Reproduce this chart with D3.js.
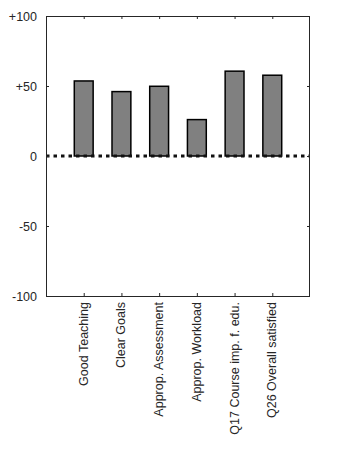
<!DOCTYPE html>
<html>
<head>
<meta charset="utf-8">
<script src="https://cdn.jsdelivr.net/npm/d3@7"></script>
<style>
  body { margin: 0; background: #fff; }
  svg { display: block; }
</style>
</head>
<body>
<svg></svg>
<script>
var categories = ["Good Teaching", "Clear Goals", "Approp. Assessment", "Approp. Workload", "Q17 Course imp. f. edu.", "Q26 Overall satisfied"];
var values = [53.6, 46, 49.8, 26, 60.6, 57.7];
var yTicks = [-100, -50, 0, 50, 100];
var yTickLabels = ["-100", "-50", "0", "+50", "+100"];

var width = 354, height = 472;
var margin = {left: 46, right: 44, top: 16, bottom: 176};

var svg = d3.select("svg")
    .attr("width", width)
    .attr("height", height);

var x = d3.scaleLinear()
    .domain([0, categories.length + 1])
    .range([margin.left, width - margin.right]);

var y = d3.scaleLinear()
    .domain([-100, 100])
    .range([height - margin.bottom, margin.top]);

var axisColor = "#262626";
var font = "Liberation Sans, Arial, sans-serif";

// bars
var step = x(1) - x(0);
var barW = step * 0.5;
svg.append("g")
  .selectAll("rect")
  .data(values)
  .join("rect")
    .attr("x", (d, i) => x(i + 1) - barW / 2)
    .attr("y", d => y(d))
    .attr("width", barW)
    .attr("height", d => y(0) - y(d))
    .attr("fill", "#808080")
    .attr("stroke", "#000")
    .attr("stroke-width", 1.5);

// dotted zero line
svg.append("line")
    .attr("x1", x(0))
    .attr("x2", x(categories.length + 1))
    .attr("y1", y(0))
    .attr("y2", y(0))
    .attr("stroke", "#111")
    .attr("stroke-width", 3)
    .attr("stroke-dasharray", "3.5,4");

// box
svg.append("rect")
    .attr("x", x(0) + 0.5)
    .attr("y", y(100) + 0.5)
    .attr("width", x(categories.length + 1) - x(0) - 1)
    .attr("height", y(-100) - y(100))
    .attr("fill", "none")
    .attr("stroke", axisColor)
    .attr("stroke-width", 1);

// axes (ticks inward)
var catIdx = d3.range(1, categories.length + 1);
var gb = svg.append("g")
    .attr("transform", `translate(0,${y(-100)})`)
    .call(d3.axisBottom(x).tickValues(catIdx).tickSize(-3).tickFormat((d) => ""));
var gt = svg.append("g")
    .attr("transform", `translate(0,${y(100)})`)
    .call(d3.axisTop(x).tickValues(catIdx).tickSize(-3).tickFormat(""));
var gl = svg.append("g")
    .attr("transform", `translate(${x(0)},0)`)
    .call(d3.axisLeft(y).tickValues(yTicks).tickSize(-3).tickPadding(9)
      .tickFormat((d, i) => yTickLabels[i]));
var gr = svg.append("g")
    .attr("transform", `translate(${x(categories.length + 1)},0)`)
    .call(d3.axisRight(y).tickValues(yTicks).tickSize(-3).tickFormat(""));

[gb, gt, gl, gr].forEach(g => {
  g.select(".domain").remove();
  g.selectAll(".tick line").attr("stroke", axisColor);
});

gl.selectAll("text")
    .attr("font-family", font)
    .attr("font-size", 12.5)
    .attr("fill", axisColor);

// rotated category labels
svg.append("g")
  .selectAll("text")
  .data(categories)
  .join("text")
    .attr("transform", (d, i) => `translate(${x(i + 1) + 4},${y(-100) + 6}) rotate(-90)`)
    .attr("text-anchor", "end")
    .attr("font-family", font)
    .attr("font-size", 12.5)
    .attr("fill", axisColor)
    .text(d => d);
</script>
</body>
</html>
